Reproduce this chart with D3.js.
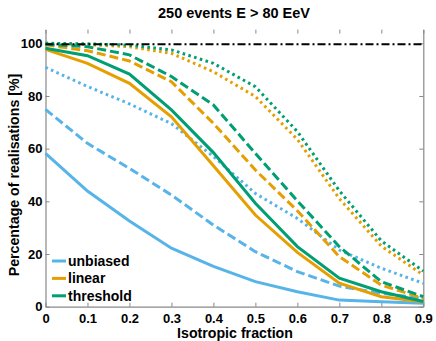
<!DOCTYPE html>
<html>
<head>
<meta charset="utf-8">
<script src="https://cdn.jsdelivr.net/npm/d3@7"></script>
<style>
    body { margin: 0; background: #fff; }
    svg { display: block; font-family: "Liberation Sans", Arial, sans-serif; font-weight: bold; }
</style>
</head>
<body>
<svg></svg>
<script>
const width = 436;
const height = 341;

const fractions = [0, 0.1, 0.2, 0.3, 0.4, 0.5, 0.6, 0.7, 0.8, 0.9];
const xTicks = [0, 0.1, 0.2, 0.3, 0.4, 0.5, 0.6, 0.7, 0.8, 0.9];
const yTicks = [0, 20, 40, 60, 80, 100];

const unbiasedSolid = [58.2, 43.9, 32.5, 22.2, 15.3, 9.5, 5.7, 2.5, 1.9, 1.3];
const unbiasedDashed = [74.9, 62.0, 52.5, 42.4, 31.0, 20.9, 13.3, 7.8, 5.1, 3.2];
const unbiasedDotted = [90.9, 83.6, 77.0, 69.5, 57.0, 43.0, 33.5, 21.5, 14.6, 8.9];

const linearSolid = [97.7, 92.4, 84.8, 72.1, 53.5, 34.8, 20.6, 8.9, 3.8, 1.9];
const linearDashed = [99.4, 97.2, 93.3, 85.4, 69.6, 51.9, 36.4, 19.0, 8.2, 3.2];
const linearDotted = [100, 99.5, 98.7, 96.2, 89.2, 79.8, 63.5, 41.0, 23.0, 12.0];

const thresholdSolid = [98.1, 95.3, 88.3, 74.7, 58.5, 39.3, 22.8, 10.8, 5.7, 2.0];
const thresholdDashed = [99.7, 98.7, 95.6, 87.4, 76.6, 58.2, 40.2, 22.8, 9.5, 3.8];
const thresholdDotted = [100, 99.8, 99.3, 97.5, 92.4, 83.5, 66.5, 44.0, 25.0, 13.5];

const referenceLevel = 99.6;

const legendNames = ['unbiased', 'linear', 'threshold'];
const colors = { unbiased: '#56B4E9', linear: '#E69F00', threshold: '#009E73' };

const dashes = { solid: null, dashed: '9,4', dotted: '2.6,3.4' };

const series = [
    { name: 'unbiased', style: 'solid', values: unbiasedSolid },
    { name: 'unbiased', style: 'dashed', values: unbiasedDashed },
    { name: 'unbiased', style: 'dotted', values: unbiasedDotted },
    { name: 'linear', style: 'solid', values: linearSolid },
    { name: 'linear', style: 'dashed', values: linearDashed },
    { name: 'linear', style: 'dotted', values: linearDotted },
    { name: 'threshold', style: 'solid', values: thresholdSolid },
    { name: 'threshold', style: 'dashed', values: thresholdDashed },
    { name: 'threshold', style: 'dotted', values: thresholdDotted },
];

const renderChart = () => {
    const svg = d3.select('svg')
        .attr('width', width)
        .attr('height', height);

    const x = d3.scaleLinear().domain([0, 0.9]).range([45.5, 423.3]);
    const y = d3.scaleLinear().domain([0, 105.2]).range([306.7, 29.6]);

    const axisColor = '#888';

    // bottom and left axes with inward ticks
    const bottom = svg.append('g')
        .attr('transform', `translate(0,${y(0)})`)
        .call(d3.axisBottom(x).tickValues(xTicks).tickSizeInner(-4).tickSizeOuter(0)
            .tickFormat(d => d === 0 ? '0' : d3.format('.1f')(d)));
    const left = svg.append('g')
        .attr('transform', `translate(${x(0)},0)`)
        .call(d3.axisLeft(y).tickValues(yTicks).tickSizeInner(-4).tickSizeOuter(0));

    // top and right tick marks
    const top = svg.append('g')
        .attr('transform', `translate(0,${y.range()[1]})`)
        .call(d3.axisTop(x).tickValues(xTicks).tickSizeInner(-4).tickSizeOuter(0).tickFormat(''));
    top.select('.domain').remove();
    const right = svg.append('g')
        .attr('transform', `translate(${x(0.9)},0)`)
        .call(d3.axisRight(y).tickValues(yTicks).tickSizeInner(-4).tickSizeOuter(0).tickFormat(''));

    [bottom, left, top, right].forEach(g => {
        g.selectAll('.domain').attr('stroke', axisColor).attr('stroke-width', 1.2);
        g.selectAll('.tick line').attr('stroke', axisColor);
        g.selectAll('text')
            .attr('fill', '#000')
            .style('font-size', '13px')
            .style('font-weight', 'bold')
            .style('font-family', '"Liberation Sans", Arial, sans-serif');
    });
    bottom.selectAll('.tick text').attr('dy', '0.95em').attr('y', 3.5);
    left.selectAll('.tick text').attr('x', -3);

    const line = d3.line()
        .x((d, i) => x(fractions[i]))
        .y(d => y(d));

    svg.selectAll('.series')
        .data(series)
        .enter().append('path')
        .attr('class', 'series')
        .attr('d', d => line(d.values))
        .attr('fill', 'none')
        .attr('stroke', d => colors[d.name])
        .attr('stroke-width', 3)
        .attr('stroke-dasharray', d => dashes[d.style]);

    svg.append('line')
        .attr('x1', x(0)).attr('x2', x(0.9))
        .attr('y1', y(referenceLevel)).attr('y2', y(referenceLevel))
        .attr('stroke', '#000')
        .attr('stroke-width', 2)
        .attr('stroke-dasharray', '8,3,2,3');

    // legend
    const legend = svg.append('g')
        .selectAll('g')
        .data(legendNames)
        .enter().append('g')
        .attr('transform', (d, i) => `translate(52,${261 + i * 17.4})`);
    legend.append('line')
        .attr('x1', 0).attr('x2', 14)
        .attr('stroke', d => colors[d])
        .attr('stroke-width', 3);
    legend.append('text')
        .attr('x', 16)
        .attr('dy', '0.35em')
        .style('font-size', '14px')
        .text(d => d);

    svg.append('text')
        .attr('x', 234).attr('y', 18)
        .attr('text-anchor', 'middle')
        .style('font-size', '14.5px')
        .text('250 events E > 80 EeV');

    svg.append('text')
        .attr('x', 235).attr('y', 337.5)
        .attr('text-anchor', 'middle')
        .style('font-size', '14.2px')
        .text('Isotropic fraction');

    svg.append('text')
        .attr('transform', `translate(14,${(y(0) + y(100)) / 2}) rotate(-90)`)
        .attr('text-anchor', 'middle')
        .attr('dy', '0.35em')
        .style('font-size', '14.2px')
        .text('Percentage of realisations [%]');
};

document.addEventListener('DOMContentLoaded', () => {
    renderChart();
});
</script>
</body>
</html>
